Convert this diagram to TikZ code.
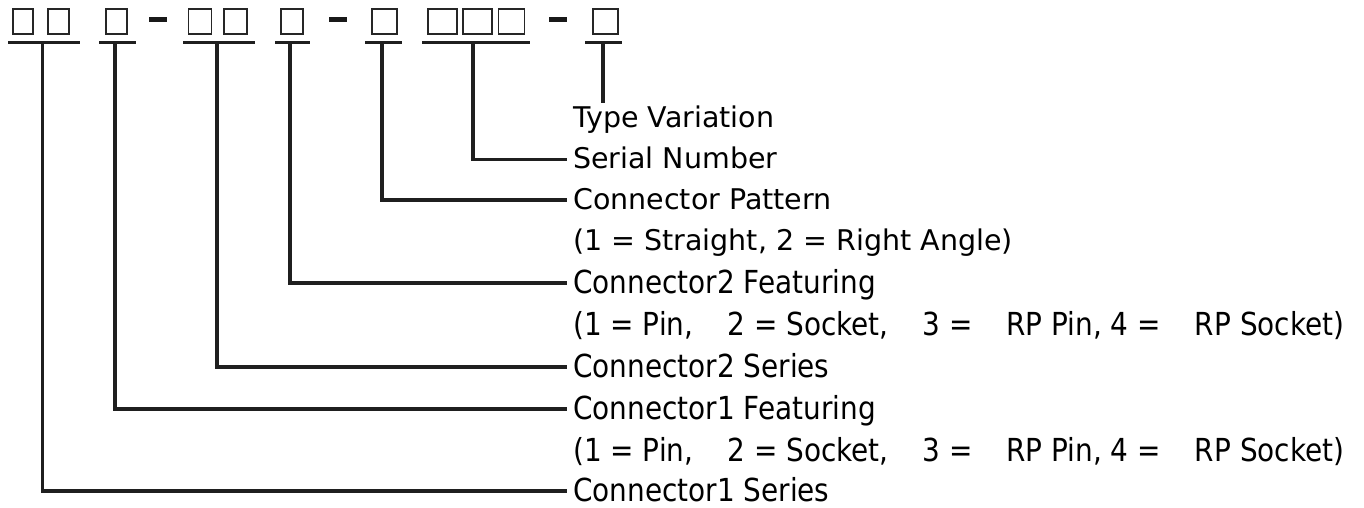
\documentclass[tikz,border=0pt]{standalone}
\usepackage{fontspec}
\setmainfont{DejaVu Sans}
\newfontfamily\verdfont{DejaVu Sans}
\newfontfamily\tahofont[FakeStretch=0.88]{DejaVu Sans}
\usetikzlibrary{calc}
\begin{document}
\begin{tikzpicture}[x=1pt,y=-1pt,
  ink/.style={draw=black!88, line width=3.6pt, line join=miter},
  digit/.style={draw=black!85, line width=1.8pt, minimum height=25pt, inner sep=0pt},
  dashmark/.style={fill=black!90, draw=none, minimum width=18pt, minimum height=5pt, inner sep=0pt},
  upper/.style={anchor=base west, inner xsep=6pt, inner ysep=0pt, font=\verdfont\fontsize{28.5}{34}\selectfont, text=black},
  lower/.style={anchor=base west, inner xsep=6pt, inner ysep=0pt, font=\tahofont\fontsize{31.7}{38}\selectfont, text=black}]
\useasboundingbox (0,0) rectangle (1364,508);
\fill[white] (0,0) rectangle (1364,508);

% digit boxes
\node[digit, minimum width=20pt] (b1)  at (23,21.5) {};
\node[digit, minimum width=21pt] (b2)  at (58.5,21.5) {};
\node[digit, minimum width=21pt] (b3)  at (116.5,21.5) {};
\node[dashmark] (d1) at (158,19.5) {};
\node[digit, minimum width=23pt] (b4)  at (200,21.5) {};
\node[digit, minimum width=23pt] (b5)  at (235.5,21.5) {};
\node[digit, minimum width=22pt] (b6)  at (292,21.5) {};
\node[dashmark] (d2) at (337.5,19.5) {};
\node[digit, minimum width=25pt] (b7)  at (384.5,21.5) {};
\node[digit, minimum width=29pt] (b8a) at (442.5,21.5) {};
\node[digit, minimum width=29pt] (b8b) at (477.5,21.5) {};
\node[digit, minimum width=26pt] (b8c) at (511.5,21.5) {};
\node[dashmark] (d3) at (558,19.5) {};
\node[digit, minimum width=25pt] (b9)  at (605.5,21.5) {};

% underlines
\draw[ink] (8,42.5) -- (80,42.5);
\draw[ink] (99,42.5) -- (136,42.5);
\draw[ink] (183,42.5) -- (255,42.5);
\draw[ink] (275,42.5) -- (310,42.5);
\draw[ink] (365,42.5) -- (402,42.5);
\draw[ink] (422,42.5) -- (530,42.5);
\draw[ink] (585,42.5) -- (622,42.5);

\coordinate (g1) at (42.5,42.5);
\coordinate (g2) at (115,42.5);
\coordinate (g3) at (217,42.5);
\coordinate (g4) at (290,42.5);
\coordinate (g5) at (382,42.5);
\coordinate (g6) at (473,42.5);
\coordinate (g7) at (603,42.5);
\coordinate (tvend) at (603,103);

% labels
\node[upper] (tv)  at (567,128) {Type Variation};
\node[upper] (sn)  at (567,168.5) {Serial Number};
\node[upper] (cp)  at (567,209) {Connector Pattern};
\node[upper] (cpn) at (567,250) {(1 = Straight, 2 = Right Angle)};
\node[lower] (c2f) at (567,293) {Connector2 Featuring};
\node[lower] (c2n) at (567,335) {(1 = Pin,\hspace{34pt}2 = Socket,\hspace{34pt}3 =\hspace{34pt}RP Pin, 4 =\hspace{34pt}RP Socket)};
\node[lower] (c2s) at (567,377) {Connector2 Series};
\node[lower] (c1f) at (567,419) {Connector1 Featuring};
\node[lower] (c1n) at (567,461) {(1 = Pin,\hspace{34pt}2 = Socket,\hspace{34pt}3 =\hspace{34pt}RP Pin, 4 =\hspace{34pt}RP Socket)};
\node[lower] (c1s) at (567,501) {Connector1 Series};

% connectors
\draw[ink] (g7) -- (tvend);
\draw[ink] (g6) |- ([yshift=9pt]sn.base west);
\draw[ink] (g5) |- ([yshift=9pt]cp.base west);
\draw[ink] (g4) |- ([yshift=10pt]c2f.base west);
\draw[ink] (g3) |- ([yshift=10pt]c2s.base west);
\draw[ink] (g2) |- ([yshift=10pt]c1f.base west);
\draw[ink] (g1) |- ([yshift=10pt]c1s.base west);
\end{tikzpicture}
\end{document}
